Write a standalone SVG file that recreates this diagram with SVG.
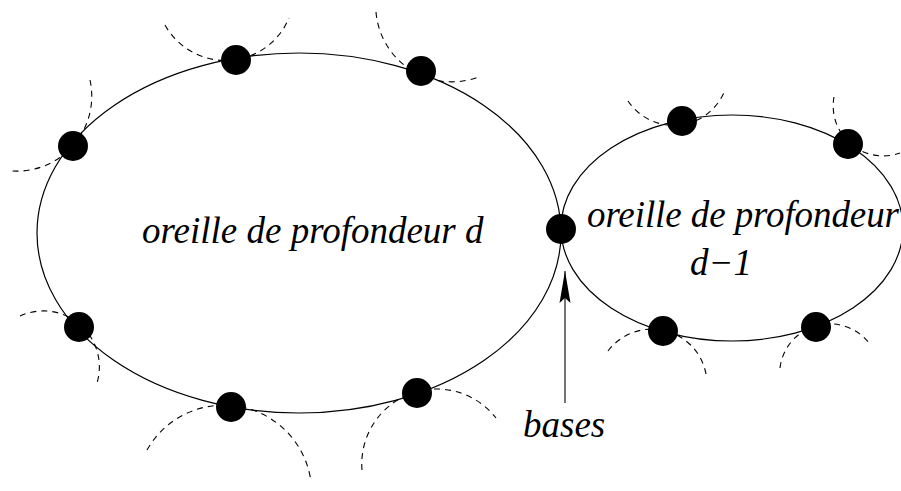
<svg xmlns="http://www.w3.org/2000/svg" width="901" height="491" viewBox="0 0 901 491">
<style>
.ear{fill:none;stroke:#000;stroke-width:1.2}
.arc{fill:none;stroke:#000;stroke-width:1.1;stroke-dasharray:6 5}
.dot{fill:#000}
.lbl{font-family:"Liberation Serif","Times New Roman",serif;font-style:italic;font-size:37px;fill:#000}
.conn{stroke:#000;stroke-width:1.1;fill:none}
</style>
<defs>
<marker id="ah" markerUnits="userSpaceOnUse" markerWidth="32" markerHeight="12" viewBox="0 0 32 12" refX="32" refY="6" orient="auto">
<path d="M0,0.5 L32,6 L0,11.5 L5,6 Z" fill="#000"/>
</marker>
</defs>
<rect width="901" height="491" fill="#fff"/>
<g id="ear-d">
<ellipse class="ear" cx="299" cy="233" rx="262" ry="180"/>
<text class="lbl" x="142" y="243">oreille de profondeur d</text>
</g>
<g id="ear-d-1">
<ellipse class="ear" cx="732" cy="228" rx="171" ry="113"/>
<text class="lbl" x="587" y="227" textLength="312" lengthAdjust="spacing">oreille de profondeur</text>
<text class="lbl" x="690" y="275">d−1</text>
</g>
<g id="dashed-arcs">
<path class="arc" d="M165,25 A69,69 0 0 0 289,18"/>
<path class="arc" d="M376,12 A76,76 0 0 0 481,76"/>
<path class="arc" d="M90,80 A75,75 0 0 1 12,171"/>
<path class="arc" d="M20,316 A56,56 0 0 1 97,383"/>
<path class="arc" d="M147,450 A88,88 0 0 1 311,482"/>
<path class="arc" d="M362,470 A75,75 0 0 1 496,418"/>
<path class="arc" d="M628,101 A55,55 0 0 0 725,90"/>
<path class="arc" d="M834,97 A50,50 0 0 0 900,153"/>
<path class="arc" d="M608,351 A55,55 0 0 1 706,374"/>
<path class="arc" d="M780,368 A50,50 0 0 1 869,343"/>
</g>
<g id="vertices">
<circle id="v1" class="dot" cx="236" cy="60" r="15"/>
<circle id="v2" class="dot" cx="421" cy="71" r="15"/>
<circle id="v3" class="dot" cx="73" cy="146" r="15"/>
<circle id="v4" class="dot" cx="79" cy="327" r="15"/>
<circle id="v5" class="dot" cx="231" cy="407" r="15"/>
<circle id="v6" class="dot" cx="417" cy="393" r="15"/>
<circle id="v7" class="dot" cx="682" cy="121" r="15"/>
<circle id="v8" class="dot" cx="848" cy="144" r="15"/>
<circle id="v9" class="dot" cx="663" cy="331" r="15"/>
<circle id="v10" class="dot" cx="816" cy="327" r="15"/>
<circle id="base" class="dot" cx="561" cy="229" r="15"/>
</g>
<g id="bases-label">
<text class="lbl" x="523" y="437">bases</text>
</g>
<g id="connectors">
<line class="conn" x1="565" y1="403" x2="565" y2="271" marker-end="url(#ah)"/>
</g>
</svg>
